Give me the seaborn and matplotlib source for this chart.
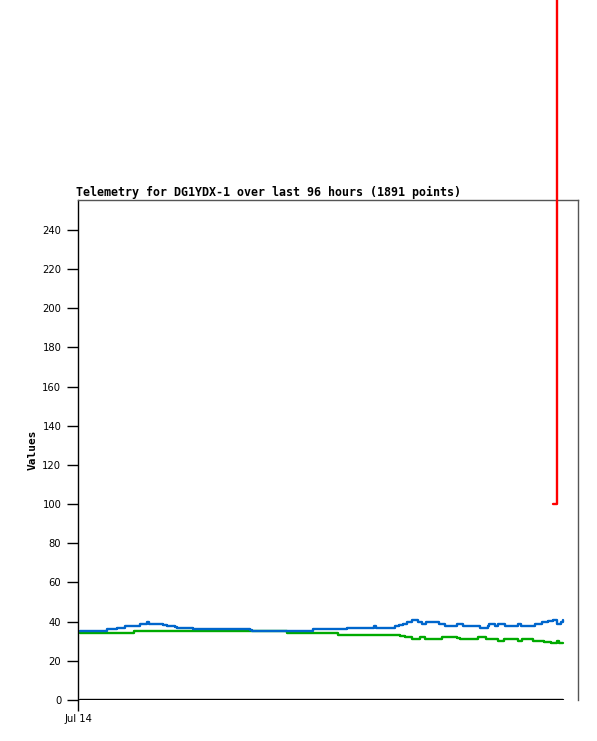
from matplotlib import pyplot as plt
import pandas as pd
import numpy as np
import seaborn as sns

# hours since Jul 14 00:00 (step series, value holds until the next time)
blue_t = [0, 5.4, 7.4, 8.9, 11.9, 13.3, 13.7, 16.5, 17.3, 18.9, 19.3, 22.5,
          33.8, 34.2, 46.3, 53.1, 58.4, 58.8, 62.6, 63.4, 64.2, 65.0, 66.0,
          67.2, 68.0, 68.8, 71.4, 72.6, 75.0, 76.1, 79.5, 81.1, 81.3, 82.5,
          83.1, 84.5, 87.1, 87.7, 90.5, 91.8, 93.0, 94.0, 94.8, 95.6, 96.0]
blue_v = [35, 36, 37, 38, 39, 40, 39, 38.5, 38, 37.5, 37, 36,
          35.5, 35, 36, 37, 38, 37, 38, 38.5, 39, 40, 41,
          40, 39, 40, 39, 38, 39, 38, 37, 38, 39, 38,
          39, 38, 39, 38, 39, 40, 40.5, 41, 39, 40, 41]

green_t = [0, 10.7, 41.2, 51.3, 63.6, 64.6, 66.0, 67.6, 68.6, 72.0, 75.0,
           75.5, 79.1, 80.7, 83.1, 84.3, 87.1, 87.9, 90.1, 92.2, 93.6, 94.8,
           95.2, 96.0]
green_v = [34, 35, 34, 33, 32.5, 32, 31, 32, 31, 32, 31.5,
           31, 32, 31, 30, 31, 30, 31, 30, 29.5, 29, 30,
           29, 29]

black_t = [0, 96.0]
black_v = [0, 0]

red_t = [94.0, 94.8, 94.8]
red_v = [100, 100, 1000]

x_ticks = [-0.4]
x_labels = ["Jul 14"]
y_ticks = list(range(0, 241, 20))

title = "Telemetry for DG1YDX-1 over last 96 hours (1891 points)"

sns.set_style("white")
plt.rcParams['font.family'] = ['DejaVu Sans']
plt.rcParams['text.color'] = 'black'
plt.rcParams['axes.labelcolor'] = 'black'
plt.rcParams['xtick.color'] = 'black'
plt.rcParams['ytick.color'] = 'black'

fig = plt.figure(figsize=(5.97, 7.41), dpi=100)
ax = fig.add_axes([78 / 597, 41 / 741, 500 / 597, 500 / 741])

df = pd.concat([
    pd.DataFrame({"t": green_t, "v": green_v, "s": "green"}),
    pd.DataFrame({"t": blue_t, "v": blue_v, "s": "blue"}),
])
sns.lineplot(data=df, x="t", y="v", hue="s", palette={"green": "#00aa00", "blue": "#0066cc"},
             estimator=None, sort=False, drawstyle="steps-post", lw=1.7, legend=False, ax=ax)
sns.lineplot(x=black_t, y=black_v, color="black", lw=1.7, estimator=None, ax=ax)
ax.plot(red_t, red_v, color="#ff0000", lw=1.7, clip_on=False, zorder=5)

ax.set_xlim(-0.4, 99.0)
ax.set_ylim(0, 255.3)
ax.set_xticks(x_ticks)
ax.set_xticklabels(x_labels)
ax.set_yticks(y_ticks)
ax.tick_params(axis="both", direction="out", length=8, width=1, color="black",
               labelsize=7.2, pad=4, left=True, bottom=True, labelcolor="black")
ax.tick_params(axis="x", pad=2)
ax.set_xlabel("")
ax.set_ylabel("Values", family="DejaVu Sans Mono", fontweight="bold", fontsize=8,
              labelpad=3, color="black")

for side in ["top", "right"]:
    ax.spines[side].set_visible(True)
    ax.spines[side].set_color("#555555")
    ax.spines[side].set_linewidth(1)
ax.spines["left"].set_color("black")
ax.spines["left"].set_linewidth(1)
ax.spines["bottom"].set_visible(False)

ax.set_title(title, family="DejaVu Sans Mono", fontweight="bold", fontsize=8.4,
             loc="left", pad=3, x=-0.003, color="black")

fig.savefig("out.png", dpi=100)
